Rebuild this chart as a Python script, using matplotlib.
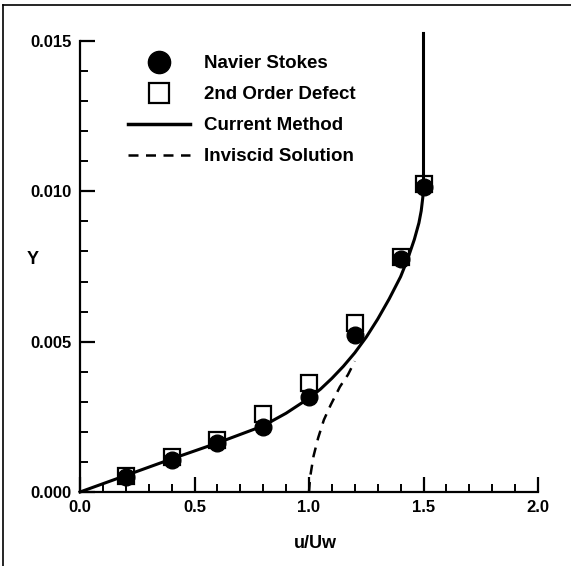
import numpy as np
import matplotlib
matplotlib.use('Agg')
import matplotlib.pyplot as plt
from matplotlib.lines import Line2D
from matplotlib.ticker import MultipleLocator

plt.rcParams['font.family'] = ['Liberation Sans', 'DejaVu Sans']
plt.rcParams['font.weight'] = 'bold'

# Navier Stokes (filled circles)
ns_u = [0.2, 0.4, 0.6, 0.8, 1.0, 1.2, 1.4, 1.5]
ns_y = [0.00051, 0.00106, 0.00163, 0.00215, 0.00316, 0.00521, 0.00776, 0.01013]

# 2nd order defect (open squares)
def_u = [0.2, 0.4, 0.6, 0.8, 1.0, 1.2, 1.4, 1.5]
def_y = [0.00052, 0.00116, 0.00173, 0.00260, 0.00363, 0.00563, 0.00783, 0.01024]

# Current method (solid line)
cur_u = [0.0, 0.2, 0.4, 0.6, 0.8, 0.9, 1.0, 1.05, 1.1, 1.15, 1.2, 1.25, 1.3,
         1.35, 1.4, 1.43, 1.46, 1.48, 1.49, 1.497, 1.5, 1.5]
cur_y = [0.0, 0.00055, 0.0011, 0.00163, 0.00220, 0.00262, 0.00312, 0.00342,
         0.00378, 0.00418, 0.00463, 0.00515, 0.00575, 0.00642, 0.00716,
         0.00773, 0.00840, 0.00895, 0.00935, 0.00980, 0.0104, 0.01525]

# Inviscid solution (dashed line)
inv_u = [1.0, 1.005, 1.02, 1.04, 1.065, 1.095, 1.135, 1.17, 1.2]
inv_y = [0.0, 0.0005, 0.0012, 0.0018, 0.0024, 0.0029, 0.0035, 0.0039, 0.00435]


def main():
    fig = plt.figure(figsize=(5.71, 5.66), dpi=100)
    ax = fig.add_axes([80 / 571, 1 - 492 / 566, 458 / 571, 451 / 566])

    ax.plot(def_u, def_y, 's', ms=11, mfc='white', mec='black', mew=1.6, zorder=3)
    ax.plot(ns_u, ns_y, 'o', ms=12, color='black', zorder=4)
    ax.plot(cur_u, cur_y, '-', color='black', lw=2.2, zorder=5, clip_on=False)
    ax.plot(inv_u, inv_y, '--', color='black', lw=1.8, dashes=(4, 3), zorder=5)

    ax.set_xlim(0, 2.0)
    ax.set_ylim(0, 0.015)
    ax.xaxis.set_major_locator(MultipleLocator(0.5))
    ax.xaxis.set_minor_locator(MultipleLocator(0.1))
    ax.yaxis.set_major_locator(MultipleLocator(0.005))
    ax.yaxis.set_minor_locator(MultipleLocator(0.001))
    ax.xaxis.set_major_formatter(lambda v, p: f'{v:.1f}')
    ax.yaxis.set_major_formatter(lambda v, p: f'{v:.3f}')

    for s in ['top', 'right']:
        ax.spines[s].set_visible(False)
    for s in ['left', 'bottom']:
        ax.spines[s].set_linewidth(1.6)
    ax.tick_params(which='major', direction='in', length=11, width=1.6,
                   labelsize=12, pad=6)
    ax.tick_params(which='minor', direction='in', length=6, width=1.4)

    ax.set_xlabel('u/Uw', fontsize=13, fontweight='bold')
    ax.xaxis.set_label_coords((315 - 80) / 458, -(535 - 492) / 451)
    ax.set_ylabel('Y', fontsize=13, fontweight='bold', rotation=0, va='center', ha='center')
    ax.yaxis.set_label_coords((33 - 80) / 458, (492 - 259) / 451)

    handles = [
        Line2D([], [], marker='o', ls='none', ms=16, color='black'),
        Line2D([], [], marker='s', ls='none', ms=15, mfc='white', mec='black', mew=1.6),
        Line2D([], [], ls='-', lw=2.5, color='black'),
        Line2D([], [], ls='--', lw=1.8, color='black', dashes=(4, 3)),
    ]
    labels = ['Navier Stokes', '2nd Order Defect', 'Current Method', 'Inviscid Solution']
    ax.legend(handles, labels, loc='upper left', frameon=False,
              bbox_to_anchor=((128 - 80) / 458, (492 - 55) / 451),
              borderpad=0, borderaxespad=0, handlelength=3.3, handletextpad=0.75,
              labelspacing=0.74, prop={'weight': 'bold', 'size': 13.5})

    # figure frame (top and left edges visible in the scan)
    fig.add_artist(Line2D([3 / 571, 3 / 571], [0, 1 - 5 / 566], color='black', lw=1.2))
    fig.add_artist(Line2D([3 / 571, 1], [1 - 5 / 566, 1 - 5 / 566], color='black', lw=1.2))

    fig.savefig('out.png', dpi=100)


if __name__ == '__main__':
    main()
